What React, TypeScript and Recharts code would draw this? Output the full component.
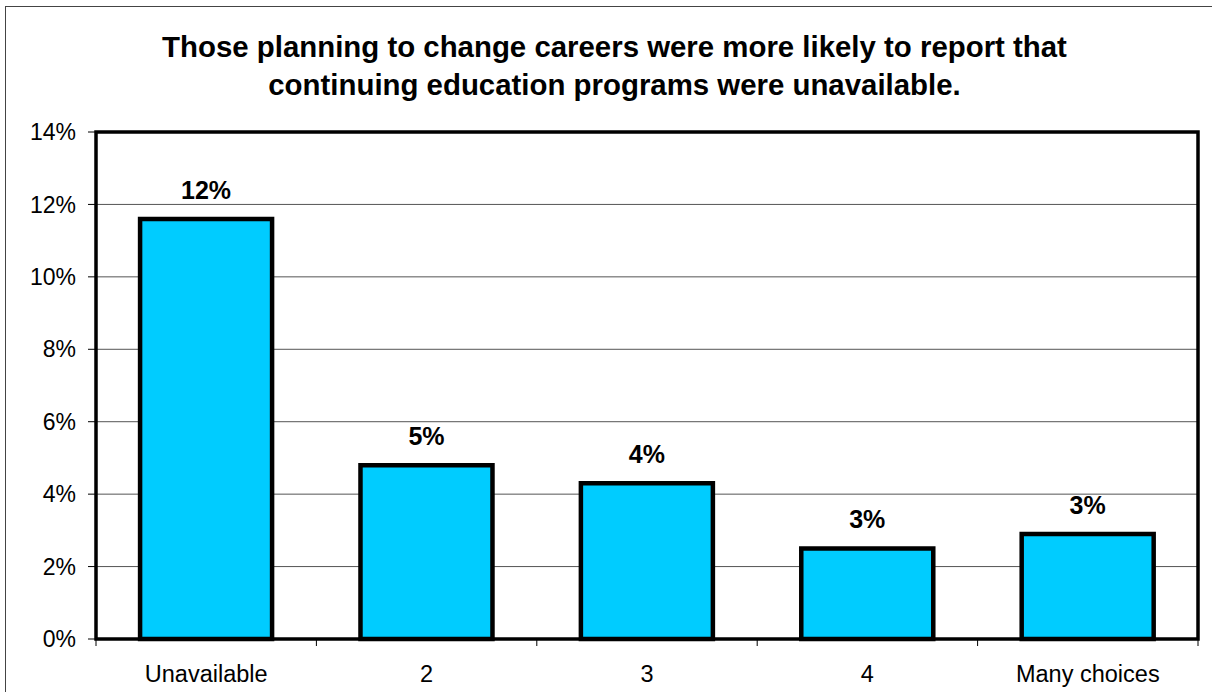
import React from 'react';
import { BarChart, Bar, XAxis, YAxis, CartesianGrid, LabelList, usePlotArea } from 'recharts';

const categories = ['Unavailable', '2', '3', '4', 'Many choices'];
const values = [11.6, 4.8, 4.3, 2.5, 2.9];
const valueLabels = ['12%', '5%', '4%', '3%', '3%'];
const yTicks = [0, 2, 4, 6, 8, 10, 12, 14];
const titleLines = [
  'Those planning to change careers were more likely to report that',
  'continuing education programs were unavailable.',
];

const data = categories.map((c, i) => ({ name: c, value: values[i], label: valueLabels[i] }));

const FONT = '"Liberation Sans", Arial, Helvetica, sans-serif';

const PlotBorder = () => {
  const area = usePlotArea();
  if (!area) return null;
  return (
    <rect x={area.x} y={area.y} width={area.width} height={area.height} fill="none" stroke="#000" strokeWidth={3.5} />
  );
};

const XTick = (props: any) => {
  const { x, y, payload, index } = props;
  const off = payload.offset || 0;
  const axisY = y - 26;
  return (
    <g>
      <line x1={x - off} x2={x - off} y1={axisY} y2={axisY + 7} stroke="#000" strokeWidth={1} />
      {index === categories.length - 1 && (
        <line x1={x + off} x2={x + off} y1={axisY} y2={axisY + 7} stroke="#000" strokeWidth={1} />
      )}
      <text x={x} y={y} dy="0.71em" textAnchor="middle" fontSize={23.5} fill="#000" fontFamily={FONT}>
        {payload.value}
      </text>
    </g>
  );
};

export default function App() {
  return (
    <div style={{ position: 'absolute', left: 0, top: 0, width: 1212, height: 692, background: '#fff', overflow: 'hidden', fontFamily: FONT }}>
      <div style={{ position: 'absolute', left: 5, top: 6, width: 1230, height: 720, border: '1.5px solid #444', boxSizing: 'border-box' }} />
      <div style={{ position: 'absolute', left: 0, top: 28, width: 1229, textAlign: 'center', fontWeight: 'bold', fontSize: 29.4, lineHeight: '38px', color: '#000' }}>
        {titleLines.map((t, i) => (
          <div key={i}>{t}</div>
        ))}
      </div>
      <div style={{ position: 'absolute', left: 0, top: 0 }}>
        <BarChart width={1212} height={692} data={data} margin={{ top: 132, right: 14, bottom: 23, left: 0 }} barCategoryGap="20%">
          <CartesianGrid vertical={false} stroke="#555" strokeWidth={1} />
          <XAxis
            dataKey="name"
            height={30}
            axisLine={false}
            tickLine={false}
            tickSize={6}
            tickMargin={20}
            tick={<XTick />}
            interval={0}
          />
          <YAxis
            width={96}
            domain={[0, 14]}
            ticks={yTicks}
            interval={0}
            axisLine={false}
            tickLine={{ stroke: '#000' }}
            tickSize={8}
            tickMargin={12}
            tickFormatter={(v: number) => `${v}%`}
            tick={{ fontSize: 23, fill: '#000', fontFamily: FONT }}
          />
          <Bar dataKey="value" fill="#00CCFF" stroke="#000" strokeWidth={4.5} isAnimationActive={false}>
            <LabelList dataKey="label" position="top" offset={20} style={{ fontSize: 25, fontWeight: 'bold', fill: '#000', fontFamily: FONT }} />
          </Bar>
          <PlotBorder />
        </BarChart>
      </div>
    </div>
  );
}
